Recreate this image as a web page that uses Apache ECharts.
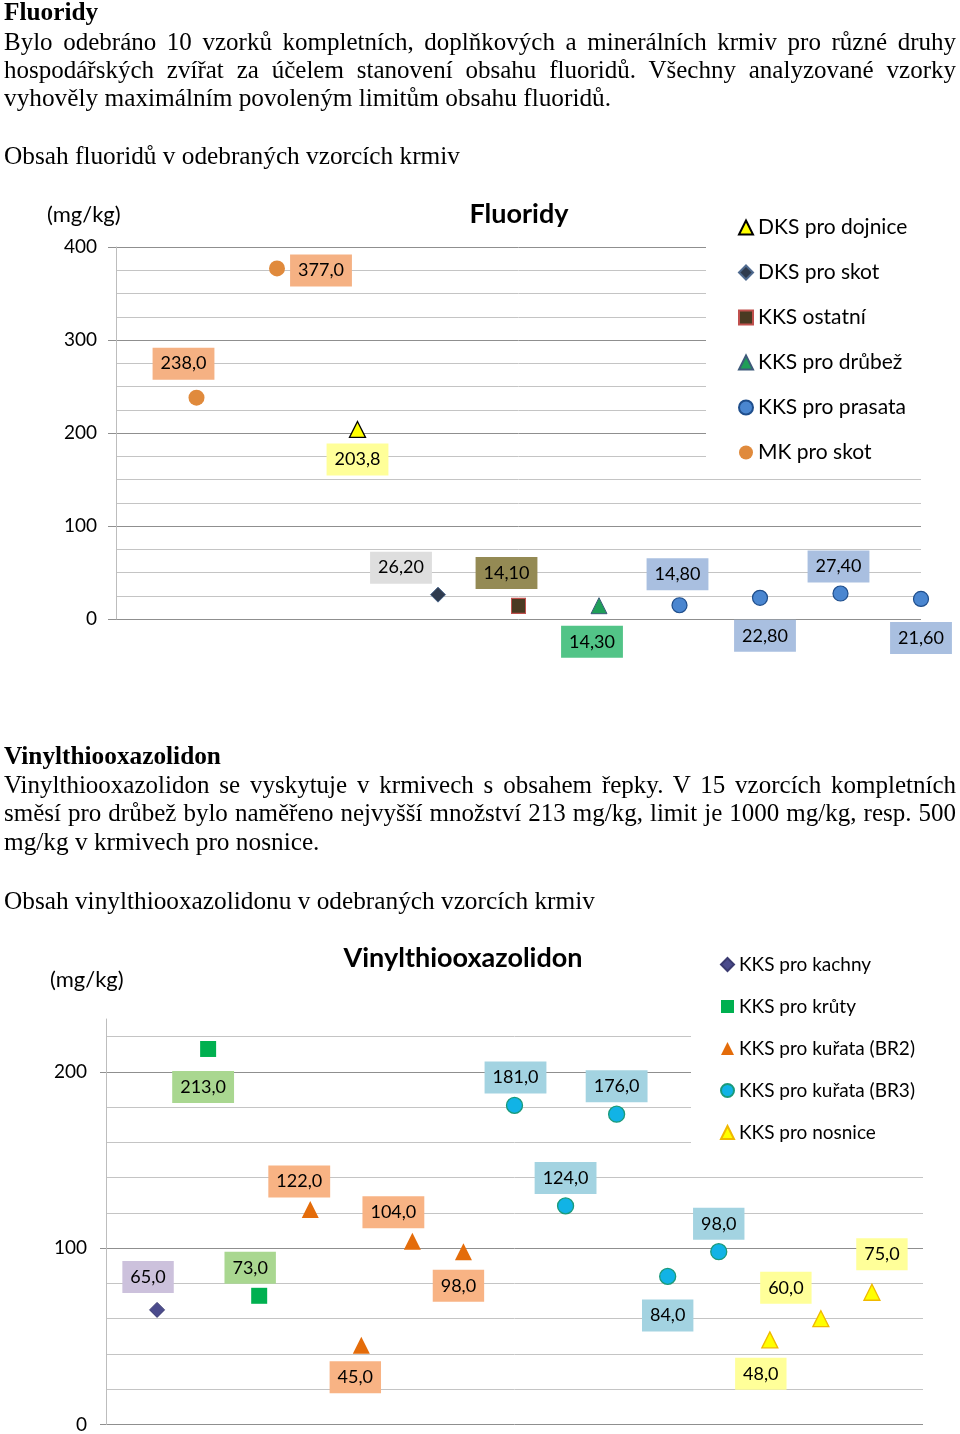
<!DOCTYPE html>
<html><head><meta charset="utf-8">
<script src="https://cdn.jsdelivr.net/npm/echarts@6/dist/echarts.min.js"></script>
<style>
html,body{margin:0;padding:0;background:#fff;}
#page{position:relative;width:960px;height:1434px;overflow:hidden;background:#fff;}
#chart{position:absolute;left:0;top:0;width:960px;height:1434px;}
.t{position:absolute;left:4px;width:952px;font-family:"Liberation Serif","Times New Roman",serif;font-size:25.3px;line-height:29px;color:#000;white-space:nowrap;z-index:2;}
.j{text-align:justify;text-align-last:justify;white-space:normal;font-size:25px;}
.b{font-weight:bold;}
</style></head>
<body><div id="page">
<div id="chart"></div>
<div class="t b" style="top:-3px">Fluoridy</div>
<div class="t j" style="top:26.6px">Bylo odebráno 10 vzorků kompletních, doplňkových a minerálních krmiv pro různé druhy</div>
<div class="t j" style="top:55px">hospodářských zvířat za účelem stanovení obsahu fluoridů. Všechny analyzované vzorky</div>
<div class="t" style="top:83.4px">vyhověly maximálním povoleným limitům obsahu fluoridů.</div>
<div class="t" style="top:141.3px">Obsah fluoridů v odebraných vzorcích krmiv</div>
<div class="t b" style="top:741px">Vinylthiooxazolidon</div>
<div class="t j" style="top:769.6px">Vinylthiooxazolidon se vyskytuje v&nbsp;krmivech s&nbsp;obsahem řepky. V 15 vzorcích kompletních</div>
<div class="t j" style="top:798.3px">směsí pro drůbež bylo naměřeno nejvyšší množství 213 mg/kg, limit je 1000 mg/kg, resp. 500</div>
<div class="t" style="top:827.1px">mg/kg v krmivech pro nosnice.</div>
<div class="t" style="top:885.6px">Obsah vinylthiooxazolidonu v odebraných vzorcích krmiv</div>
</div>
<script>
// ---------- Chart 1: Fluoridy (x = sample order, y = mg/kg) ----------
const fluorNames = ['DKS pro dojnice', 'DKS pro skot', 'KKS ostatní', 'KKS pro drůbež', 'KKS pro prasata', 'MK pro skot'];
const fluorDksDojnice = [[3, 203.8]];
const fluorDksSkot = [[4, 26.2]];
const fluorKksOstatni = [[5, 14.1]];
const fluorKksDrubez = [[6, 14.3]];
const fluorKksPrasata = [[7, 14.8], [8, 22.8], [9, 27.4], [10, 21.6]];
const fluorMkSkot = [[1, 238.0], [2, 377.0]];

// ---------- Chart 2: Vinylthiooxazolidon ----------
const vtoNames = ['KKS pro kachny', 'KKS pro krůty', 'KKS pro kuřata (BR2)', 'KKS pro kuřata (BR3)', 'KKS pro nosnice'];
const vtoKachny = [[1, 65.0]];
const vtoKruty = [[2, 213.0], [3, 73.0]];
const vtoBr2 = [[4, 122.0], [5, 45.0], [6, 104.0], [7, 98.0]];
const vtoBr3 = [[8, 181.0], [9, 124.0], [10, 176.0], [11, 84.0], [12, 98.0]];
const vtoNosnice = [[13, 48.0], [14, 60.0], [15, 75.0]];
const vtoTicks = [0, 100, 200];

// ---------- styling (label placement offsets in px relative to the marker) ----------
const FONT = 'Lato';
const MAJ = '#8f8f8f', MIN = '#c4c4c4';
function fmt(v, d) { return v.toFixed(d).replace('.', ','); }

function scatter(name, data, grid, o) {
  return {
    type: 'scatter', name: name, xAxisIndex: grid, yAxisIndex: grid,
    symbol: o.symbol, symbolSize: o.size, z: 3,
    itemStyle: { color: o.fill, borderColor: o.border || o.fill, borderWidth: o.bw || 0, opacity: 1 },
    data: data.map(function (d, i) {
      return { value: d, label: { offset: o.offsets[i] } };
    }),
    label: {
      show: true, position: 'inside', color: '#000', fontSize: 18, fontFamily: FONT,
      backgroundColor: o.bg, padding: [6, 8, 6, 8], lineHeight: 20,
      formatter: function (p) { return fmt(p.value[1], o.dec); }
    },
    emphasis: { disabled: true }
  };
}

const series = [
  scatter(fluorNames[0], fluorDksDojnice, 0, { symbol: 'triangle', size: 16, fill: '#ffff00', border: '#000', bw: 1.3, bg: '#ffff99', dec: 1, offsets: [[0, 30]] }),
  scatter(fluorNames[1], fluorDksSkot, 0, { symbol: 'diamond', size: 15, fill: '#2f3b4e', border: '#4f6a8f', bw: 1, bg: '#dedede', dec: 2, offsets: [[-37, -27]] }),
  scatter(fluorNames[2], fluorKksOstatni, 0, { symbol: 'rect', size: [14, 15], fill: '#4a3a22', border: '#c0504d', bw: 1, bg: '#948a54', dec: 2, offsets: [[-12, -33]] }),
  scatter(fluorNames[3], fluorKksDrubez, 0, { symbol: 'triangle', size: 16, fill: '#1f9e58', border: '#3d5a7a', bw: 1, bg: '#52c487', dec: 2, offsets: [[-7, 36]] }),
  scatter(fluorNames[4], fluorKksPrasata, 0, { symbol: 'circle', size: 15, fill: '#4a86d0', border: '#1f4e8c', bw: 1.2, bg: '#a9bfe0', dec: 2, offsets: [[-2, -31], [5, 38], [-2, -27], [0, 39]] }),
  scatter(fluorNames[5], fluorMkSkot, 0, { symbol: 'circle', size: 16, fill: '#e08a3c', border: '#e08a3c', bw: 0, bg: '#f5b183', dec: 1, offsets: [[-13, -34], [44, 2]] }),

  scatter(vtoNames[0], vtoKachny, 1, { symbol: 'diamond', size: 15, fill: '#4b4b8c', border: '#3a3a70', bw: 1, bg: '#ccc1dc', dec: 1, offsets: [[-9, -33]] }),
  scatter(vtoNames[1], vtoKruty, 1, { symbol: 'rect', size: 16, fill: '#00b050', bg: '#a9d790', dec: 1, offsets: [[-5, 38], [-9, -28]] }),
  scatter(vtoNames[2], vtoBr2, 1, { symbol: 'triangle', size: 17, fill: '#e46c0a', bg: '#f8b384', dec: 1, offsets: [[-11, -28], [-6, 32], [-19, -29], [-5, 34]] }),
  scatter(vtoNames[3], vtoBr3, 1, { symbol: 'circle', size: 16, fill: '#11b3e6', border: '#1a9a7a', bw: 1.3, bg: '#a3d3e1', dec: 1, offsets: [[1, -28], [0, -28], [0, -28], [0, 39], [0, -28]] }),
  scatter(vtoNames[4], vtoNosnice, 1, { symbol: 'triangle', size: 16, fill: '#ffff00', border: '#f0b800', bw: 1.3, bg: '#ffff99', dec: 1, offsets: [[-9, 34], [-35, -31], [10, -38]] })
];

const chart = echarts.init(document.getElementById('chart'));
chart.setOption({
  animation: false,
  backgroundColor: 'transparent',
  title: [
    { text: 'Fluoridy', left: 519, top: 201, textAlign: 'center', padding: 0, textStyle: { fontSize: 27, fontWeight: 'bold', fontFamily: FONT, color: '#000' } },
    { text: '(mg/kg)', left: 47, top: 204, padding: 0, textStyle: { fontSize: 22, fontWeight: 'normal', fontFamily: FONT, color: '#000' } },
    { text: 'Vinylthiooxazolidon', left: 463, top: 945, textAlign: 'center', padding: 0, textStyle: { fontSize: 27, fontWeight: 'bold', fontFamily: FONT, color: '#000' } },
    { text: '(mg/kg)', left: 50, top: 969, padding: 0, textStyle: { fontSize: 22, fontWeight: 'normal', fontFamily: FONT, color: '#000' } }
  ],
  legend: [
    { data: fluorNames, orient: 'vertical', left: 706, top: 205, padding: [12, 24, 8, 32], itemGap: 24, itemWidth: 14, itemHeight: 14,
      backgroundColor: '#fff', z: 5, selectedMode: false, textStyle: { fontSize: 21, fontFamily: FONT, color: '#000' } },
    { data: vtoNames, orient: 'vertical', left: 691, top: 943, padding: [12, 14, 12, 29], itemGap: 23, itemWidth: 13, itemHeight: 13,
      backgroundColor: '#fff', z: 5, selectedMode: false, textStyle: { fontSize: 19, fontFamily: FONT, color: '#000' } }
  ],
  grid: [
    { left: 116, top: 247, width: 805, height: 372, containLabel: false },
    { left: 106, top: 1019, width: 817, height: 406, containLabel: false }
  ],
  xAxis: [
    { gridIndex: 0, type: 'value', min: 0, max: 10, show: false },
    { gridIndex: 1, type: 'value', min: 0, max: 16, show: false }
  ],
  yAxis: [
    { gridIndex: 0, type: 'value', min: 0, max: 400, interval: 100,
      axisLine: { show: true, lineStyle: { color: '#bdbdbd', width: 1 } },
      axisTick: { show: true, length: 8, lineStyle: { color: MAJ } },
      axisLabel: { margin: 19, fontSize: 19, color: '#000', fontFamily: FONT },
      splitLine: { show: true, lineStyle: { color: MAJ, width: 1 } },
      minorTick: { show: false, splitNumber: 4 },
      minorSplitLine: { show: true, lineStyle: { color: MIN, width: 1 } } },
    { gridIndex: 1, type: 'value', min: 0, max: 230, interval: 100,
      axisLine: { show: true, lineStyle: { color: '#bdbdbd', width: 1 } },
      axisTick: { show: true, length: 6, customValues: vtoTicks, lineStyle: { color: MAJ } },
      axisLabel: { customValues: vtoTicks, margin: 19, fontSize: 19, color: '#000', fontFamily: FONT },
      splitLine: { show: false } },
    { gridIndex: 1, type: 'value', min: 0, max: 230, interval: 20, z: -1,
      axisLine: { show: false }, axisTick: { show: false }, axisLabel: { show: false },
      splitLine: { show: true, showMaxLine: false, lineStyle: { color: [MAJ, MIN, MIN, MIN, MIN], width: 1 } } }
  ],
  series: series
});
</script>
</body></html>
